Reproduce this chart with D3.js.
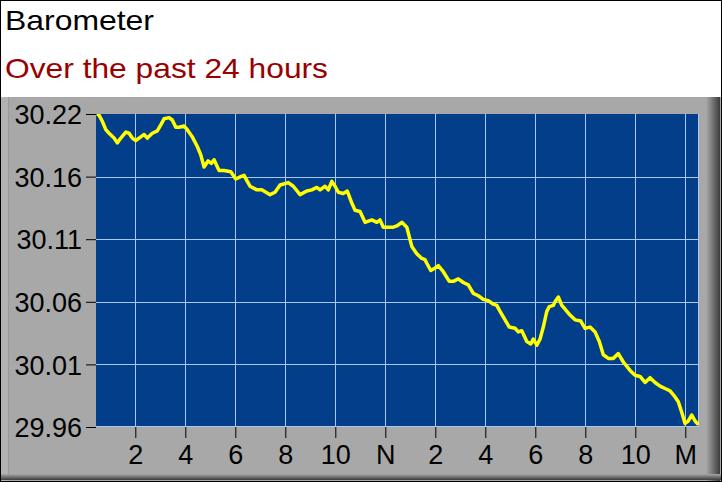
<!DOCTYPE html>
<html><head><meta charset="utf-8">
<script src="https://cdn.jsdelivr.net/npm/d3@7"></script>
<style>body{margin:0;background:#fff}svg{display:block}</style>
</head><body>
<svg id="chart" width="722" height="482"></svg>
<script>
const title = "Barometer";
const subtitle = "Over the past 24 hours";
const hours = [0.47,0.55,0.68,0.82,0.95,1.15,1.28,1.42,1.62,1.75,
1.88,2.02,2.22,2.35,2.48,2.68,2.88,3.02,3.15,3.35,
3.48,3.62,3.75,3.95,4.08,4.28,4.48,4.62,4.75,4.91,
5.04,5.15,5.35,5.55,5.82,6.02,6.22,6.35,6.48,6.59,
6.86,7.06,7.39,7.59,7.79,8.12,8.32,8.59,8.86,9.06,
9.26,9.39,9.59,9.72,9.86,9.99,10.12,10.32,10.48,10.66,
10.79,10.99,11.19,11.46,11.66,11.79,11.92,12.12,12.32,12.46,
12.66,12.86,12.96,13.06,13.26,13.46,13.59,13.66,13.82,13.99,
14.12,14.32,14.56,14.72,14.92,15.12,15.32,15.52,15.72,15.92,
16.12,16.32,16.46,16.59,16.79,16.96,17.19,17.32,17.46,17.66,
17.82,17.92,18.06,18.19,18.32,18.46,18.56,18.72,18.79,18.92,
19.06,19.19,19.39,19.59,19.82,19.99,20.19,20.39,20.56,20.72,
20.92,21.12,21.32,21.52,21.79,21.99,22.19,22.39,22.59,22.79,
22.99,23.19,23.39,23.59,23.72,23.86,23.99,24.12,24.26,24.39,
24.52];
const pressure = [30.220,30.219,30.214,30.207,30.204,30.200,30.196,30.200,30.205,30.204,
30.200,30.198,30.201,30.203,30.200,30.204,30.206,30.211,30.216,30.217,
30.215,30.209,30.209,30.210,30.207,30.201,30.193,30.186,30.176,30.181,
30.179,30.182,30.173,30.173,30.172,30.166,30.168,30.169,30.164,30.160,
30.157,30.157,30.153,30.155,30.161,30.163,30.160,30.153,30.156,30.157,
30.159,30.157,30.160,30.157,30.164,30.160,30.155,30.154,30.156,30.146,
30.140,30.139,30.130,30.132,30.130,30.132,30.126,30.126,30.126,30.127,
30.130,30.126,30.118,30.110,30.104,30.100,30.099,30.096,30.090,30.092,
30.094,30.089,30.081,30.081,30.083,30.080,30.078,30.071,30.069,30.066,
30.065,30.062,30.061,30.056,30.049,30.043,30.042,30.039,30.040,30.031,
30.029,30.033,30.028,30.033,30.043,30.056,30.060,30.061,30.064,30.068,
30.061,30.058,30.053,30.049,30.048,30.042,30.043,30.039,30.031,30.020,
30.017,30.017,30.021,30.014,30.007,30.003,30.002,29.997,30.001,29.997,
29.994,29.992,29.990,29.985,29.981,29.972,29.963,29.965,29.970,29.965,
29.962];
const yTickLabels = ["29.96","30.01","30.06","30.11","30.16","30.22"];
const xTickHours = [2,4,6,8,10,12,14,16,18,20,22,24];
const xTickLabels = ["2","4","6","8","10","N","2","4","6","8","10","M"];
const xDomain = [0.428, 24.548];
const yDomain = [29.96, 30.22];

const W = 722, H = 482;
const plot = {left:96, right:699, top:114, bottom:427};
const svg = d3.select("#chart");
const font = "Liberation Sans, Arial, sans-serif";

// header
svg.append("rect").attr("x",0).attr("y",0).attr("width",W).attr("height",97).attr("fill","#fff");
svg.append("text").attr("x",5).attr("y",30).attr("font-family",font).attr("font-size",28)
  .attr("textLength",149).attr("lengthAdjust","spacingAndGlyphs").attr("fill","#000").text(title);
svg.append("text").attr("x",5).attr("y",78).attr("font-family",font).attr("font-size",28)
  .attr("textLength",323).attr("lengthAdjust","spacingAndGlyphs").attr("fill","#990000").text(subtitle);

// gray panel with bevel
const defs = svg.append("defs");
const gr = defs.append("linearGradient").attr("id","rshade").attr("x1","0").attr("x2","1").attr("y1","0").attr("y2","0");
gr.append("stop").attr("offset","0").attr("stop-color","#a8a8a8");
gr.append("stop").attr("offset","1").attr("stop-color","#3c3c3c");
const gb = defs.append("linearGradient").attr("id","bshade").attr("x1","0").attr("x2","0").attr("y1","0").attr("y2","1");
gb.append("stop").attr("offset","0").attr("stop-color","#a8a8a8");
gb.append("stop").attr("offset","1").attr("stop-color","#3c3c3c");
svg.append("rect").attr("x",0).attr("y",97).attr("width",W).attr("height",H-97).attr("fill","#a8a8a8");
svg.append("rect").attr("x",1).attr("y",97).attr("width",7).attr("height",H-97).attr("fill","#b2b2b2");
svg.append("rect").attr("x",8).attr("y",97).attr("width",1).attr("height",H-97).attr("fill","#9a9a9a");
svg.append("rect").attr("x",706).attr("y",97).attr("width",14).attr("height",H-97).attr("fill","url(#rshade)");
svg.append("rect").attr("x",0).attr("y",474).attr("width",W).attr("height",6).attr("fill","url(#bshade)");
svg.append("rect").attr("x",0).attr("y",0).attr("width",W-1).attr("height",H-1)
  .attr("fill","none").attr("stroke","#000").attr("stroke-width",1).attr("transform","translate(0.5,0.5)");

// scales
const x = d3.scaleLinear().domain(xDomain).range([plot.left, plot.right]);
const y = d3.scaleLinear().domain(yDomain).range([plot.bottom, plot.top]);
const yTickVals = yTickLabels.map((d,i)=> yDomain[0] + i*(yDomain[1]-yDomain[0])/(yTickLabels.length-1));

// plot background
svg.append("rect").attr("x",plot.left).attr("y",plot.top)
  .attr("width",plot.right-plot.left).attr("height",plot.bottom-plot.top).attr("fill","#033e8a");

// grid
const gridColor = "#a9c8ee";
const g = svg.append("g");
g.selectAll(".vg").data(xTickHours).join("line")
  .attr("x1",d=>Math.round(x(d))+0.5).attr("x2",d=>Math.round(x(d))+0.5)
  .attr("y1",plot.top).attr("y2",plot.bottom).attr("stroke",gridColor).attr("stroke-width",1);
g.selectAll(".hg").data(yTickVals.slice(1,-1)).join("line")
  .attr("x1",plot.left).attr("x2",plot.right)
  .attr("y1",d=>Math.round(y(d))+0.5).attr("y2",d=>Math.round(y(d))+0.5)
  .attr("stroke",gridColor).attr("stroke-width",1);
// light right & bottom border
svg.append("line").attr("x1",plot.left).attr("x2",plot.right).attr("y1",plot.bottom-0.5).attr("y2",plot.bottom-0.5).attr("stroke",gridColor);
svg.append("line").attr("x1",plot.right-0.5).attr("x2",plot.right-0.5).attr("y1",plot.top).attr("y2",plot.bottom).attr("stroke",gridColor);

// axes
const yAxis = d3.axisLeft(y).tickValues(yTickVals).tickFormat((d,i)=>yTickLabels[i]).tickSize(10).tickPadding(4);
const ya = svg.append("g").attr("transform",`translate(${plot.left},0)`).call(yAxis);
ya.select(".domain").remove();
ya.selectAll("line").attr("stroke","#000");
ya.selectAll("text").attr("font-family",font).attr("font-size",27).attr("fill","#000").attr("dy","0.36em");

const xAxis = d3.axisBottom(x).tickValues(xTickHours).tickFormat((d,i)=>xTickLabels[i]).tickSize(11).tickPadding(7);
const xa = svg.append("g").attr("transform",`translate(0,${plot.bottom})`).call(xAxis);
xa.select(".domain").remove();
xa.selectAll("line").attr("stroke","#000");
xa.selectAll("text").attr("font-family",font).attr("font-size",27).attr("fill","#000");

// line
const data = hours.map((h,i)=>({h, v: pressure[i]}));
svg.append("clipPath").attr("id","clip").append("rect")
  .attr("x",plot.left).attr("y",plot.top).attr("width",plot.right-plot.left).attr("height",plot.bottom-plot.top);
svg.append("path").datum(data).attr("clip-path","url(#clip)")
  .attr("fill","none").attr("stroke","#ffff00").attr("stroke-width",3.5).attr("stroke-linejoin","round")
  .attr("d", d3.line().x(d=>x(d.h)).y(d=>y(d.v)));
</script>
</body></html>
